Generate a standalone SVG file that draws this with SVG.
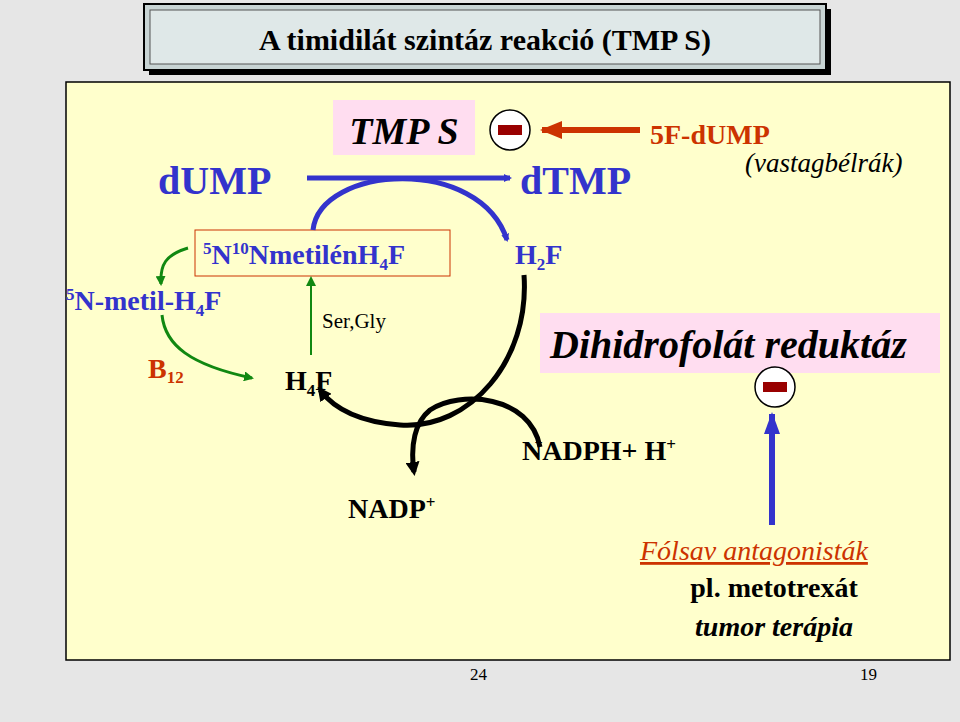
<svg xmlns="http://www.w3.org/2000/svg" width="960" height="722" viewBox="0 0 960 722" font-family="Liberation Serif, Times New Roman, serif">
<defs>
<marker id="ab" markerWidth="8" markerHeight="8" refX="6" refY="4" orient="auto" markerUnits="userSpaceOnUse"><path d="M0,0 L8,4 L0,8 Z" fill="#3333cc"/></marker>
<marker id="ag" markerWidth="10" markerHeight="10" refX="8" refY="5" orient="auto" markerUnits="userSpaceOnUse"><path d="M0,0 L10,5 L0,10 Z" fill="#118811"/></marker>
<marker id="ak" markerWidth="14" markerHeight="14" refX="10" refY="7" orient="auto" markerUnits="userSpaceOnUse"><path d="M0,0 L14,7 L0,14 Z" fill="#000"/></marker>
<marker id="ar" markerWidth="22" markerHeight="18" refX="20" refY="9" orient="auto" markerUnits="userSpaceOnUse"><path d="M0,0 L22,9 L0,18 Z" fill="#cc3300"/></marker>
<marker id="au" markerWidth="22" markerHeight="16" refX="20" refY="8" orient="auto" markerUnits="userSpaceOnUse"><path d="M0,0 L22,8 L0,16 Z" fill="#3333cc"/></marker>
</defs>
<style>
.b{fill:#3333cc}
.minus circle{fill:#fff;stroke:#000;stroke-width:1.5}
.minus rect{fill:#990000}
</style>
<rect width="960" height="722" fill="#e6e6e6"/>
<g id="title">
<rect x="149" y="9" width="682" height="66" fill="#000"/>
<rect x="144" y="4" width="682" height="66" fill="#c8d4d4" stroke="#000" stroke-width="2"/>
<rect x="150" y="10" width="670" height="54" fill="#dfe8e8" stroke="#555"/>
<text x="485" y="50" text-anchor="middle" font-size="30" font-weight="bold" font-family="Liberation Serif, serif">A timidilát szintáz reakció (TMP S)</text>
</g>
<rect x="66" y="82" width="884" height="578" fill="#ffffcc" stroke="#000" stroke-width="1.5"/>
<g id="tmps"><rect x="333" y="100" width="142" height="55" fill="#ffddf0"/><text x="404" y="144" text-anchor="middle" font-size="38" font-style="italic" font-weight="bold" font-family="Liberation Serif, serif">TMP S</text></g>
<g id="m1" class="minus"><circle cx="510" cy="130" r="20"/><rect x="498" y="125" width="24" height="10"/></g>
<g id="fdump"><text x="650" y="144" font-size="28" font-weight="bold" fill="#cc3300" font-family="Liberation Serif, serif">5F-dUMP</text><text x="745" y="172" font-size="27" font-style="italic" font-family="Liberation Serif, serif">(vastagbélrák)</text></g>
<g id="dump"><text x="158" y="194" font-size="40" font-weight="bold" class="b" font-family="Liberation Serif, serif">dUMP</text></g>
<g id="dtmp"><text x="520" y="194" font-size="40" font-weight="bold" class="b" font-family="Liberation Serif, serif">dTMP</text></g>
<g id="meth"><rect x="195" y="230" width="255" height="46" fill="#ffffcc" stroke="#cc3300"/><text x="203" y="264" font-size="28" font-weight="bold" class="b" font-family="Liberation Serif, serif"><tspan font-size="17" dy="-10">5</tspan><tspan dy="10">N</tspan><tspan font-size="17" dy="-10">10</tspan><tspan dy="10">NmetilénH</tspan><tspan font-size="17" dy="6">4</tspan><tspan dy="-6">F</tspan></text></g>
<g id="h2f"><text x="515" y="264" font-size="28" font-weight="bold" class="b" font-family="Liberation Serif, serif">H<tspan font-size="17" dy="6">2</tspan><tspan dy="-6">F</tspan></text></g>
<g id="metil"><text x="66" y="310" font-size="28" font-weight="bold" class="b" font-family="Liberation Serif, serif"><tspan font-size="17" dy="-10">5</tspan><tspan dy="10">N-metil-H</tspan><tspan font-size="17" dy="6">4</tspan><tspan dy="-6">F</tspan></text></g>
<g id="b12"><text x="148" y="378" font-size="28" font-weight="bold" fill="#cc3300" font-family="Liberation Serif, serif">B<tspan font-size="17" dy="5">12</tspan></text></g>
<g id="h4f"><text x="285" y="390" font-size="28" font-weight="bold" font-family="Liberation Serif, serif">H<tspan font-size="17" dy="6">4</tspan><tspan dy="-6">F</tspan></text></g>
<g id="sergly"><text x="322" y="328" font-size="21" font-family="Liberation Serif, serif">Ser,Gly</text></g>
<g id="dhfr"><rect x="540" y="313" width="400" height="60" fill="#ffddf0"/><text x="550" y="358" font-size="40" font-style="italic" font-weight="bold" font-family="Liberation Serif, serif">Dihidrofolát reduktáz</text></g>
<g id="m2" class="minus"><circle cx="775" cy="387" r="20"/><rect x="763" y="382" width="24" height="10"/></g>
<g id="nadph"><text x="522" y="460" font-size="28" font-weight="bold" font-family="Liberation Serif, serif">NADPH+ H<tspan font-size="17" dy="-10">+</tspan></text></g>
<g id="nadp"><text x="348" y="518" font-size="28" font-weight="bold" font-family="Liberation Serif, serif">NADP<tspan font-size="17" dy="-10">+</tspan></text></g>
<g id="folsav" font-family="Liberation Serif, serif"><text x="640" y="560" font-size="28" font-style="italic" fill="#cc3300" text-decoration="underline">Fólsav antagonisták</text><text x="774" y="597" text-anchor="middle" font-size="28" font-weight="bold">pl. metotrexát</text><text x="774" y="636" text-anchor="middle" font-size="28" font-style="italic" font-weight="bold">tumor terápia</text></g>
<g id="pg" font-family="Liberation Serif, serif"><text x="470" y="680" font-size="17">24</text><text x="860" y="680" font-size="17">19</text></g>
<g id="connectors" fill="none">
<line x1="307" y1="178" x2="510" y2="178" stroke="#3333cc" stroke-width="5" marker-end="url(#ab)"/>
<path d="M313,230 C320,165 480,155 507,240" stroke="#3333cc" stroke-width="5" marker-end="url(#ab)"/>
<line x1="640" y1="130" x2="542" y2="130" stroke="#cc3300" stroke-width="6" marker-end="url(#ar)"/>
<path d="M188,248 C165,255 160,265 161,284" stroke="#118811" stroke-width="3" marker-end="url(#ag)"/>
<path d="M162,315 C165,345 190,365 252,378" stroke="#118811" stroke-width="3" marker-end="url(#ag)"/>
<line x1="311" y1="355" x2="311" y2="278" stroke="#118811" stroke-width="2" marker-end="url(#ag)"/>
<path d="M524,275 C530,360 470,430 400,425 C360,422 335,410 320,390" stroke="#000" stroke-width="5" marker-end="url(#ak)"/>
<path d="M540,447 C530,395 460,390 430,410 C415,422 410,445 414,472" stroke="#000" stroke-width="5" marker-end="url(#ak)"/>
<line x1="772" y1="525" x2="772" y2="414" stroke="#3333cc" stroke-width="6" marker-end="url(#au)"/>
</g>
</svg>
